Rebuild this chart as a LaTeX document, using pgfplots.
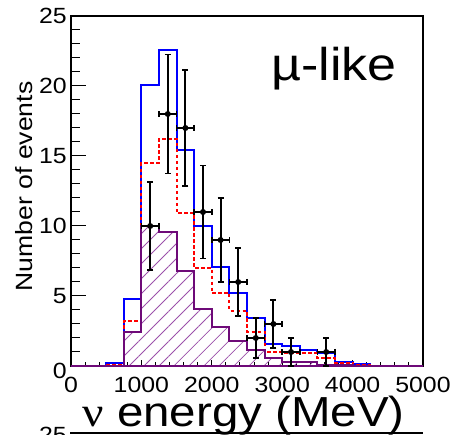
\documentclass[border=0pt]{standalone}
\usepackage{pgfplots}
\pgfplotsset{compat=1.18}
\usepackage{fontspec}
\setmainfont{Liberation Sans}[FakeStretch=1.13]
\newfontfamily\greekserif{Liberation Serif}[FakeStretch=1.13]
\usetikzlibrary{patterns.meta}
\definecolor{rootblue}{RGB}{0,0,255}
\definecolor{rootred}{RGB}{255,0,0}
\definecolor{rootpurple}{RGB}{110,10,120}
\definecolor{hatchpurple}{RGB}{155,80,170}

\pgfplotstableread{
x y
0 0
250 0
500 0.2
750 4.75
1000 20.1
1250 22.6
1500 15.4
1750 10.0
2000 7.1
2250 5.2
2500 3.4
2750 1.6
3000 1.4
3250 1.15
3500 0.95
3750 0.3
4000 0.15
4250 0
4500 0
4750 0
5000 0
}\bluehist

\pgfplotstableread{
x y
0 0
250 0
500 0.05
750 3.2
1000 14.5
1250 16.2
1500 10.9
1750 7.0
2000 5.2
2250 3.95
2500 2.45
2750 1.0
3000 0.9
3250 0.9
3500 0.55
3750 0.2
4000 0.05
4250 0
4500 0
4750 0
5000 0
}\redhist

\pgfplotstableread{
x y
0 0
250 0
500 0.02
750 2.4
1000 10.0
1250 9.55
1500 6.8
1750 4.05
2000 2.8
2250 1.75
2500 1.15
2750 0.55
3000 0.25
3250 0.25
3500 0.1
3750 0.05
4000 0
4250 0
4500 0
4750 0
5000 0
}\purplehist

\pgfplotstableread{
x y ex ey
1125 10 125 3.162
1375 18 125 4.243
1625 17 125 4.123
1875 11 125 3.317
2125 9 125 3.000
2375 6 125 2.449
2625 2 125 1.414
2875 3 125 1.732
3125 1 125 1.000
3625 1 125 1.000
}\datapts

\begin{document}
\begin{tikzpicture}
\begin{axis}[
  at={(0,0)}, anchor=south west,
  scale only axis, width=352pt, height=350pt,
  xmin=0, xmax=5000, ymin=0, ymax=25,
  clip=false,
  xtick={0,1000,2000,3000,4000,5000},
  ytick={0,5,10,15,20,25},
  minor x tick num=4, minor y tick num=4,
  tick align=inside, xtick pos=left, ytick pos=left,
  major tick length=15pt, minor tick length=9pt,
  xtick style={/pgfplots/major tick length=6pt, /pgfplots/minor tick length=3.5pt},
  every tick/.style={black, line width=1pt},
  axis line style={black, line width=1.6pt},
  scaled x ticks=false, scaled y ticks=false,
  /pgf/number format/1000 sep={},
  /pgf/number format/assume math mode=true,
  xticklabel style={font=\fontsize{22}{22}\selectfont, inner sep=0pt, anchor=north, yshift=-11pt},
  yticklabel style={font=\fontsize{22}{22}\selectfont, inner sep=0pt, anchor=east, xshift=-4pt},
  yticklabel={\ifnum\ticknum=0 \raisebox{-5pt}[\height][\depth]{0}\else\pgfmathprintnumber{\tick}\fi},
  xlabel={{\greekserif ν} energy (MeV)},
  ylabel={Number of events},
  xlabel style={font=\fontsize{42}{42}\selectfont, at={(axis description cs:0.49,-0.174)}, anchor=base, inner sep=0pt},
  ylabel style={font=\fontsize{23.5}{23.5}\selectfont, at={(axis description cs:-0.108,0.513)}, anchor=base, inner sep=0pt},
]
\addplot[const plot, draw=rootblue, line width=2pt] table[x=x,y=y] {\bluehist};
\addplot[const plot, draw=rootred, line width=2pt, dash pattern=on 3.5pt off 2.5pt] table[x=x,y=y] {\redhist};
\addplot[const plot, draw=rootpurple, line width=2pt, pattern={Lines[angle=45,distance=10.6pt,line width=0.8pt]}, pattern color=hatchpurple] table[x=x,y=y] {\purplehist} \closedcycle;
\addplot[black, line width=1.9pt, only marks, mark=none,
  error bars/.cd, x dir=both, x explicit, y dir=both, y explicit,
  error bar style={line width=1.9pt, black, solid},
  error mark=-,
  error mark options={rotate=90, black, line width=1.6pt, mark size=3pt}]
  table[x=x, y=y, x error=ex, y error=ey] {\datapts};
\node[anchor=base, inner sep=0pt, font=\fontsize{46}{46}\selectfont] at (axis description cs:0.747,0.817) {µ-like};
\end{axis}
\draw[line width=2pt] (-1pt,-67.3pt) -- (352pt,-67.3pt);
\node[anchor=north east, inner sep=0pt, font=\fontsize{22}{22}\selectfont] at (-4pt,-61pt) {25};
\pgfresetboundingbox
\path[use as bounding box] (-71pt,-69pt) rectangle (379pt,366pt);
\end{tikzpicture}
\end{document}
